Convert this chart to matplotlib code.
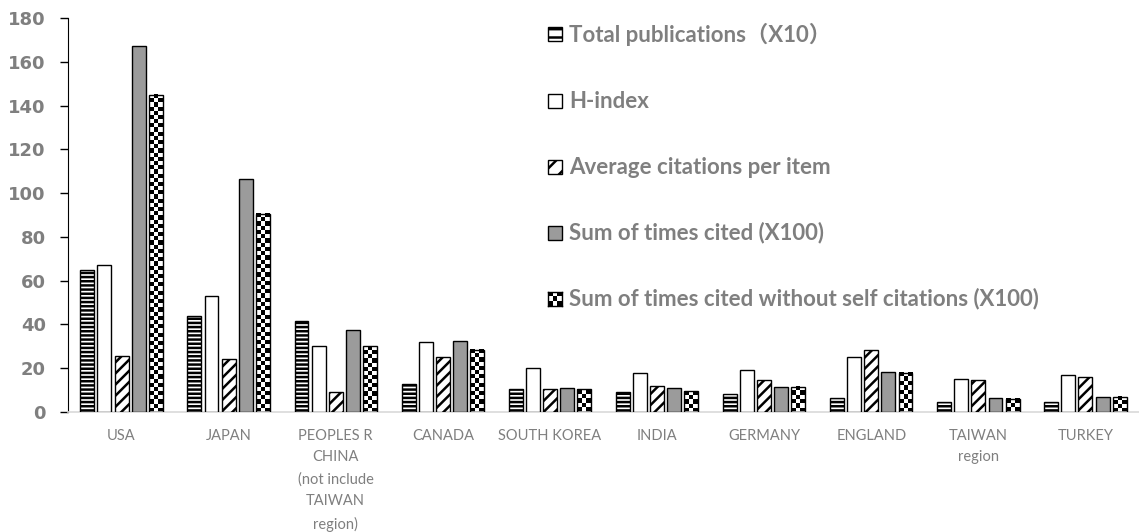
import numpy as np
import matplotlib
matplotlib.use("Agg")
import matplotlib.pyplot as plt
from matplotlib.patches import Rectangle

countries = ["USA", "JAPAN", "PEOPLES R\nCHINA\n(not include\nTAIWAN\nregion)", "CANADA",
             "SOUTH KOREA", "INDIA", "GERMANY", "ENGLAND", "TAIWAN\nregion", "TURKEY"]

series_names = ["Total publications\uff08X10\uff09", "H-index", "Average citations per item",
                "Sum of times cited (X100)", "Sum of times cited without self citations (X100)"]

total_pubs = [65, 44, 41.5, 13, 10.5, 9, 8, 6.5, 4.5, 4.5]
h_index = [67, 53, 30, 32, 20, 18, 19, 25, 15, 17]
avg_citations = [25.5, 24, 9, 25, 10.5, 12, 14.5, 28.5, 14.5, 16]
sum_cited = [167, 106.5, 37.5, 32.5, 11, 11, 11.5, 18.5, 6.5, 7]
sum_cited_noself = [145, 90.5, 30, 28.5, 10.5, 9.5, 11.5, 18, 6, 7]

values = [total_pubs, h_index, avg_citations, sum_cited, sum_cited_noself]

# style per series: facecolor, hatch ('checker' is drawn with an image)
styles = [("white", "----"), ("white", None), ("white", "///"), ("#9b9b9b", None), ("white", "checker")]

plt.rcParams["hatch.linewidth"] = 1.8
plt.rcParams["font.family"] = ["Lato", "Noto Sans CJK SC", "DejaVu Sans"]

fig = plt.figure(figsize=(11.39, 5.32), dpi=100)
ax = fig.add_axes([68 / 1139, 120 / 532, 1 - 68 / 1139, 394 / 532])

x = np.arange(len(countries))
width = 0.13
step = 0.16
ymax = 180

checker_bars = []
for i, (vals, (fc, hatch)) in enumerate(zip(values, styles)):
    pos = x + (i - 2) * step
    if hatch == "checker":
        bars = ax.bar(pos, vals, width, facecolor="none", edgecolor="black", linewidth=1.0, zorder=3)
        checker_bars = bars
    else:
        ax.bar(pos, vals, width, facecolor=fc, edgecolor="black", linewidth=1.0,
               hatch=hatch, zorder=3)

ax.set_xlim(-0.5, len(countries) - 0.5)
ax.set_ylim(0, ymax)

# checkerboard fill for the last series, roughly 4 px cells
px_per_unit = 394 / ymax
for b in checker_bars:
    h = b.get_height()
    rows = max(1, int(round(h * px_per_unit / 4.2)))
    img = np.indices((rows, 3)).sum(axis=0) % 2
    ax.imshow(img, cmap="gray", extent=[b.get_x(), b.get_x() + b.get_width(), 0, h],
              aspect="auto", interpolation="nearest", origin="lower", zorder=2)
ax.set_xlim(-0.5, len(countries) - 0.5)
ax.set_ylim(0, ymax)

ax.set_yticks(np.arange(0, 181, 20))
ax.set_xticks(x)
ax.set_xticklabels(countries, fontsize=10.5, color="#7f7f7f", linespacing=1.7,
                   va="top")
for lab in ax.get_yticklabels():
    lab.set_fontfamily("DejaVu Sans")
    lab.set_fontweight("bold")
    lab.set_color("#7f7f7f")
    lab.set_fontsize(13)
ax.tick_params(axis="y", length=6, width=1, color="black", pad=10)
ax.tick_params(axis="x", length=0, pad=12)
for s in ["top", "right"]:
    ax.spines[s].set_visible(False)
ax.spines["left"].set_color("black")
ax.spines["bottom"].set_color("#d9d9d9")
ax.spines["bottom"].set_linewidth(1.2)

# legend drawn by hand so the checker swatch matches the bars
leg_x = 548 / 1139
leg_rows = [34, 101, 167, 233, 299]
sw = 14 / 1139
shh = 14 / 532
for name, (fc, hatch), yy in zip(series_names, styles, leg_rows):
    yc = 1 - yy / 532
    if hatch == "checker":
        iax = fig.add_axes([leg_x, yc - shh / 2, sw, shh])
        iax.imshow(np.indices((3, 3)).sum(axis=0) % 2, cmap="gray",
                   interpolation="nearest", aspect="auto")
        iax.set_xticks([])
        iax.set_yticks([])
        for sp in iax.spines.values():
            sp.set_linewidth(1.0)
    else:
        fig.patches.append(Rectangle((leg_x, yc - shh / 2), sw, shh, transform=fig.transFigure,
                                     facecolor=fc, edgecolor="black", linewidth=1.0,
                                     hatch=None if hatch is None else hatch[:2]))
    fig.text(leg_x + 21 / 1139, yc, name, fontsize=16, fontweight="bold",
             color="#7f7f7f", va="center", ha="left")

fig.savefig("out.png", dpi=100)
